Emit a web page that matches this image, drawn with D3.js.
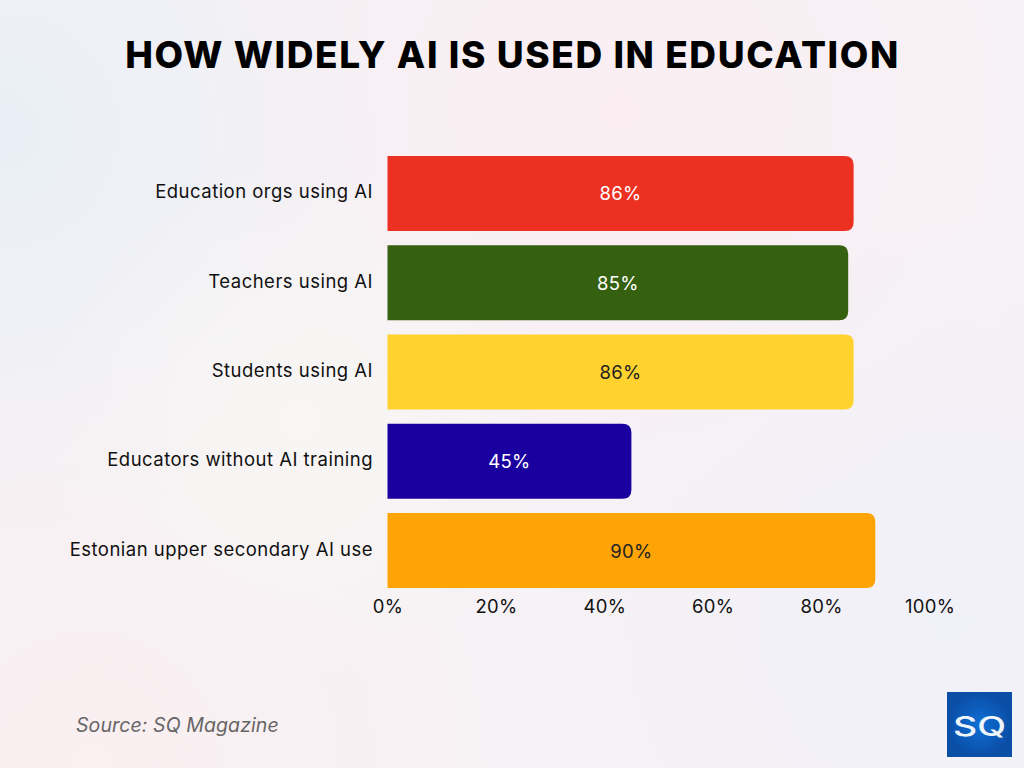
<!DOCTYPE html>
<html><head><meta charset="utf-8">
<style>html,body{margin:0;padding:0;overflow:hidden}</style>
<script src="https://cdn.jsdelivr.net/npm/d3@7/dist/d3.min.js"></script>
</head><body><svg id="c" width="1024" height="768" style="display:block"></svg>
<script>
const categories=["Education orgs using AI","Teachers using AI","Students using AI","Educators without AI training","Estonian upper secondary AI use"];
const values=[86,85,86,45,90];
const barColors=["#ec3022","#35600f","#ffd22e","#1b00a0","#ffa405"];
const labelColors=["#ffffff","#ffffff","#222222","#ffffff","#222222"];
const ticks=[0,20,40,60,80,100];
const svg=d3.select("#c");
const defs=svg.append("defs");
function radial(id,cx,cy,rad,color){
 const g=defs.append("radialGradient").attr("id",id).attr("gradientUnits","userSpaceOnUse").attr("cx",cx).attr("cy",cy).attr("r",rad);
 g.append("stop").attr("offset",0).attr("stop-color",color).attr("stop-opacity",1);
 g.append("stop").attr("offset",1).attr("stop-color",color).attr("stop-opacity",0);
}
radial("bgA",0,130,400,"#e9eff6");
radial("bgB",620,110,460,"#faeef3");
radial("bgC",90,760,460,"#faeff1");
radial("bgD",950,620,420,"#f1f1f9");
radial("bgE",300,420,260,"#f8f6f4");
const logoG=defs.append("radialGradient").attr("id","logo");
logoG.append("stop").attr("offset",0).attr("stop-color","#0f6fd6");
logoG.append("stop").attr("offset",1).attr("stop-color","#0a4ea6");
svg.append("rect").attr("width",1024).attr("height",768).attr("fill","#f6f2f5");
["bgB","bgC","bgD","bgA","bgE"].forEach(id=>svg.append("rect").attr("width",1024).attr("height",768).attr("fill",`url(#${id})`));
const font="Inter, sans-serif";
svg.append("text").attr("x",512.5).attr("y",67.5).attr("text-anchor","middle").attr("font-family",font).attr("font-weight",800).attr("font-size",37).attr("letter-spacing",1.6).attr("fill","#000").text("HOW WIDELY AI IS USED IN EDUCATION");
const x=d3.scaleLinear().domain([0,100]).range([387.5,929.5]);
const y=d3.scaleBand().domain(categories).range([156,588]).paddingInner(0.16).paddingOuter(0);
const row=svg.selectAll("g.r").data(categories).join("g");
const r=9;
row.append("path").attr("fill",(d,i)=>barColors[i]).attr("d",(d,i)=>{
 const x0=x(0),x1=x(values[i]),y0=y(d),h=y.bandwidth();
 return `M${x0},${y0}H${x1-r}Q${x1},${y0} ${x1},${y0+r}V${y0+h-r}Q${x1},${y0+h} ${x1-r},${y0+h}H${x0}Z`;});
row.append("text").attr("x",(d,i)=>x(values[i]/2)).attr("y",d=>y(d)+y.bandwidth()/2+7).attr("text-anchor","middle").attr("font-family",font).attr("font-size",18.5).attr("letter-spacing",0.3).attr("fill",(d,i)=>labelColors[i]).text((d,i)=>values[i]+"%");
row.append("text").attr("x",373).attr("y",d=>y(d)+y.bandwidth()/2+5).attr("text-anchor","end").attr("font-family",font).attr("font-size",18.5).attr("letter-spacing",0.48).attr("fill","#111").text(d=>d);
const ax=svg.append("g").attr("transform","translate(0,594)").call(d3.axisBottom(x).tickValues(ticks).tickFormat(d=>d+"%").tickSize(0));
ax.select(".domain").remove();
ax.selectAll("text").attr("font-family",font).attr("font-size",18.5).attr("letter-spacing",0.3).attr("fill","#111").attr("dy","0.85em");
svg.append("text").attr("x",76).attr("y",732).attr("font-family",font).attr("font-style","italic").attr("font-size",19.5).attr("letter-spacing",0.1).attr("fill","#666").text("Source: SQ Magazine");
svg.append("rect").attr("x",947).attr("y",692).attr("width",65).attr("height",65).attr("fill","url(#logo)");
svg.append("text").attr("x",953).attr("y",736).attr("textLength",53).attr("lengthAdjust","spacingAndGlyphs").attr("font-family",font).attr("font-weight",500).attr("font-size",27).attr("fill","#eef5fb").text("SQ");
</script></body></html>
